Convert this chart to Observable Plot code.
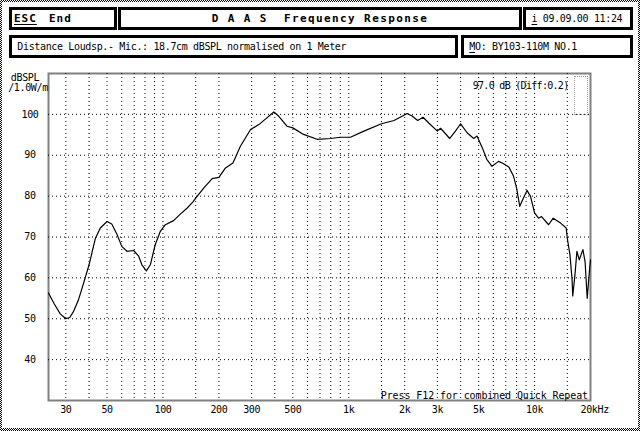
<!DOCTYPE html>
<html>
<head>
<meta charset="utf-8">
<script src="https://cdn.jsdelivr.net/npm/d3@7"></script>
<script src="https://cdn.jsdelivr.net/npm/@observablehq/plot@0.6"></script>
<style>
  html, body { margin: 0; padding: 0; background: #fff; }
  #wrap { position: relative; width: 640px; height: 431px; overflow: hidden;
          background: repeating-conic-gradient(#000 0 25%, #fff 0 50%) 0 0 / 2px 2px; }
  #inner { position: absolute; left: 2px; top: 2px; right: 2px; bottom: 3px; background: #fff; }
  #chart { position: absolute; left: 0; top: 0; }
  #chart svg text { letter-spacing: -0.35px; }
  .box { position: absolute; box-sizing: border-box; border: 3px solid #000; background: #fff; }
  .t { position: absolute; font-family: "DejaVu Sans Mono", monospace; font-size: 10px;
       letter-spacing: -0.35px; line-height: 12px; white-space: pre; color: #000; }
  .b { font-weight: bold; font-size: 11px; letter-spacing: 1px; }
  .title { letter-spacing: 1.4px; }
  u { text-decoration-thickness: 1px; text-underline-offset: 2px; }
  .tb { position: absolute; box-sizing: border-box; border: 1px dotted #999; }
</style>
</head>
<body>
<div id="wrap">
  <div id="inner"></div>
  <div id="chart"></div>
  <div class="box" style="left:9px;top:7px;width:108px;height:23px"></div>
  <div class="box" style="left:118px;top:7px;width:404px;height:23px"></div>
  <div class="box" style="left:523px;top:7px;width:110px;height:23px"></div>
  <div class="box" style="left:9px;top:35px;width:449px;height:23px"></div>
  <div class="box" style="left:461px;top:35px;width:172px;height:23px"></div>
  <div id="hdr"></div>
  <div class="tb" style="left:574px;top:76px;width:14px;height:39px"></div>
</div>
<script>
// ---- header texts ----
const escLabel = "ESC";
const endLabel = "End";
const titleText = "D A A S  Frequency Response";
const infoKey = "i";
const dateText = " 09.09.00 11:24";
const distanceText = "Distance Loudsp.- Mic.: 18.7cm dBSPL normalised on 1 Meter";
const moKey = "M";
const moText = "O: BY103-110M NO.1";

// ---- chart texts ----
const yUnitTop = "dBSPL";
const yUnitBottom = "/1.0W/m";
const levelNote = "97.0 dB (Diff:0.2)";
const footNote = "Press F12 for combined Quick Repeat";

// ---- axes ----
const yTicks = [40, 50, 60, 70, 80, 90, 100];
const xGrid = [30,40,50,60,70,80,90,100,150,200,300,400,500,600,700,800,900,
               1000,1500,2000,3000,4000,5000,6000,7000,8000,9000,10000,15000];
const xTickValues = [30, 50, 100, 200, 300, 500, 1000, 2000, 3000, 5000, 10000];
const xTickLabels = ["30","50","100","200","300","500","1k","2k","3k","5k","10k"];
const xLastTick = [20000];
const xLastLabel = ["20kHz"];

// ---- measured response ----
const freq = [24.2,26,28,30,31.5,33,35,36.7,40,43.3,46,50,53,56.6,60,64,69.5,74,77,81.4,85.5,90.8,
  96.8,103,114,124,135,145,150,166,184,200,217,238,261,296,328,364,395,419,465,500,571,675,800,903,
  1021,1206,1500,1752,2064,2190,2350,2511,2694,3000,3118,3495,3750,4000,4333,4704,4900,5235,5532,
  5900,6400,6700,7270,7700,8000,8321,8700,9100,9500,10000,10500,10900,11900,12600,13800,14800,15000,
  15500,15900,16050,16500,16900,17400,18200,18700,19200,19800,20000];
const spl = [56.3,53.6,51.2,50,50.3,51.8,54.5,57.5,63.2,69.7,72.2,73.8,73.2,70.6,67.7,66.5,66.7,65.3,
  63.2,61.7,63.2,68.1,71.4,73,74,75.6,77.1,78.6,79.5,82,84.3,84.6,86.9,88.1,92.2,96.3,97.5,99.2,100.6,
  99.6,97.1,96.7,95.1,93.9,94.1,94.4,94.4,95.9,97.7,98.5,100.2,99.6,98.5,99.3,97.9,95.9,96.6,94.1,95.9,
  97.7,95.5,94.1,94.7,91.8,89,87.3,88.5,88.1,87.1,84.9,82,77.5,79.5,81.4,80,75.9,74.6,75,73,74.6,73.4,
  72.2,69.7,65.7,59.9,55.6,60.8,66.5,64.4,66.9,64,55,62.4,64.4];

const data = freq.map((f, i) => ({f, db: spl[i]}));

// header
const hdr = document.getElementById("hdr");
function addText(html, left, cy, cls, center) {
  const d = document.createElement("div");
  d.className = "t " + (cls || "");
  d.innerHTML = html;
  d.style.top = (cy - 6) + "px";
  if (center) { d.style.left = left + "px"; d.style.transform = "translateX(-50%)"; }
  else d.style.left = left + "px";
  hdr.appendChild(d);
}
addText("<u>" + escLabel + "</u>", 14, 18.5, "b");
addText(endLabel, 49, 18.5, "b");
addText(titleText, 320, 18.5, "b title", true);
addText("<u>" + infoKey + "</u>" + dateText, 531.5, 18.5);
addText(distanceText, 17.3, 46.5);
addText("<u>" + moKey + "</u>" + moText, 469.3, 46.5);

const dots = "1,3";
const chart = Plot.plot({
  width: 640,
  height: 431,
  marginLeft: 48,
  marginRight: 50,
  marginTop: 73,
  marginBottom: 31,
  style: {background: "transparent", fontFamily: "DejaVu Sans Mono", fontSize: "10px", color: "#000", overflow: "visible"},
  x: {type: "log", domain: [24.2, 20000], axis: null},
  y: {domain: [30, 110], axis: null},
  marks: [
    Plot.ruleX(xGrid, {stroke: "#000", strokeDasharray: dots, strokeWidth: 1}),
    Plot.ruleY(yTicks, {stroke: "#000", strokeDasharray: dots, strokeWidth: 1}),
    Plot.frame({stroke: "#000", strokeWidth: 2}),
    Plot.line(data, {x: "f", y: "db", stroke: "#000", strokeWidth: 1.2}),
    Plot.text(yTicks, {y: d => d, text: d => String(d), frameAnchor: "left", dx: -18.5, textAnchor: "middle", lineAnchor: "middle", fill: "#000"}),
    Plot.text(xTickValues, {x: d => d, text: (d, i) => xTickLabels[i], frameAnchor: "bottom", dy: 9.5, lineAnchor: "middle", textAnchor: "middle", fill: "#000"}),
    Plot.text(xLastTick, {x: d => d, text: (d, i) => xLastLabel[i], frameAnchor: "bottom", dy: 9.5, dx: -10, lineAnchor: "middle", textAnchor: "start", fill: "#000"}),
    Plot.text([yUnitTop], {text: d => d, frameAnchor: "top-left", dx: -23.5, dy: 4.5, textAnchor: "middle", lineAnchor: "middle", fill: "#000"}),
    Plot.text([yUnitBottom], {text: d => d, frameAnchor: "top-left", dx: -20.5, dy: 14, textAnchor: "middle", lineAnchor: "middle", fill: "#000"}),
    Plot.text([levelNote], {text: d => d, frameAnchor: "top-right", dx: -22, dy: 12, textAnchor: "end", lineAnchor: "middle", fill: "#000", className: "lvl"}),
    Plot.text([footNote], {text: d => d, frameAnchor: "bottom-right", dx: -2.5, dy: -5, textAnchor: "end", lineAnchor: "middle", fill: "#000", className: "foot"})
  ]
});
document.getElementById("chart").appendChild(chart);

// per-text letter spacing to match the original bitmap font widths
const svg = d3.select(chart);
svg.selectAll("text").each(function() {
  const t = d3.select(this).text();
  if (t === footNote) d3.select(this).style("letter-spacing", "-0.1px");
  if (t === levelNote) d3.select(this).style("letter-spacing", "-0.7px");
});

// dithered frame like the original screen rendering
const defs = svg.insert("defs", ":first-child");
const pat = defs.append("pattern").attr("id", "chk").attr("patternUnits", "userSpaceOnUse")
  .attr("width", 2).attr("height", 2);
pat.append("rect").attr("x", 0).attr("y", 0).attr("width", 1).attr("height", 1).attr("fill", "#000");
pat.append("rect").attr("x", 1).attr("y", 1).attr("width", 1).attr("height", 1).attr("fill", "#000");
svg.selectAll('[aria-label="frame"]').each(function() {
  d3.select(this).attr("stroke", "url(#chk)");
  d3.select(this).selectAll("rect").attr("stroke", "url(#chk)");
});
</script>
</body>
</html>
